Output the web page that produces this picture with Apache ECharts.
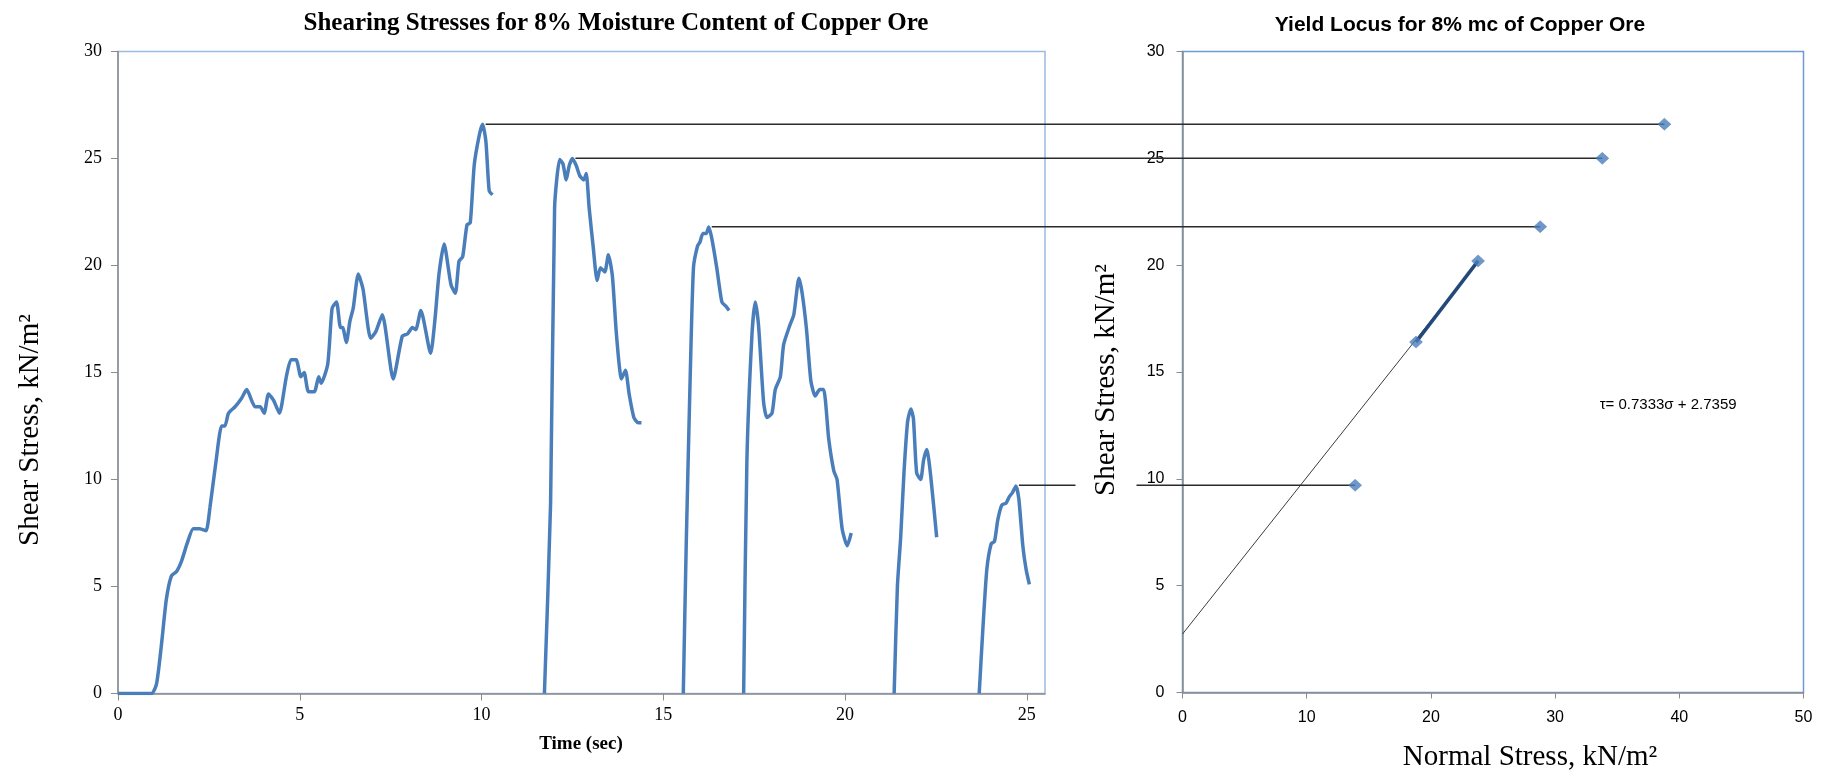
<!DOCTYPE html>
<html>
<head>
<meta charset="utf-8">
<script src="https://cdn.jsdelivr.net/npm/echarts@6/dist/echarts.min.js"></script>
<style>
  html, body { margin: 0; padding: 0; background: #ffffff; }
  #chart { width: 1834px; height: 777px; }
</style>
</head>
<body>
<div id="chart"></div>
<script>
// Shear box record: time (s) against shear stress (kN/m²); null separates the six runs
const timeSec = [
  0, 0.92, 1.06, 1.19, 1.33, 1.47, 1.61, 1.75, 1.90, 2.07, 2.25, 2.42, 2.53, 2.70, 2.85,
  2.94, 3.04, 3.22, 3.40, 3.54, 3.77, 3.91, 4.02, 4.14, 4.28, 4.44, 4.63, 4.76, 4.90, 5.03,
  5.12, 5.24, 5.40, 5.52, 5.59, 5.77, 5.89, 6.01, 6.12, 6.18, 6.28, 6.38, 6.47, 6.61, 6.74,
  6.95, 7.09, 7.27, 7.57, 7.82, 7.96, 8.10, 8.19, 8.33, 8.60, 8.72, 8.83, 8.97, 9.16, 9.28,
  9.38, 9.48, 9.60, 9.69, 9.80, 9.94, 10.03, 10.12, 10.21, 10.30,
  null,
  11.73, 11.90, 12.01, 12.15, 12.24, 12.33, 12.41, 12.50, 12.61, 12.70, 12.81, 12.88, 12.96,
  13.07, 13.18, 13.27, 13.39, 13.49, 13.60, 13.71, 13.85, 13.96, 14.06, 14.19, 14.31, 14.40,
  null,
  15.55, 15.63, 15.74, 15.83, 15.94, 16.01, 16.09, 16.18, 16.25, 16.33, 16.47, 16.61, 16.72, 16.81,
  null,
  17.21, 17.30, 17.44, 17.53, 17.62, 17.76, 17.85, 17.99, 18.08, 18.22, 18.31, 18.48, 18.59,
  18.73, 18.82, 18.94, 19.06, 19.18, 19.30, 19.41, 19.55, 19.69, 19.78, 19.92, 20.06, 20.17,
  null,
  21.35, 21.44, 21.53, 21.62, 21.72, 21.81, 21.88, 21.97, 22.08, 22.16, 22.25, 22.36, 22.52,
  null,
  23.69, 23.79, 23.90, 24.02, 24.11, 24.20, 24.31, 24.43, 24.52, 24.61, 24.70, 24.78, 24.89, 24.98, 25.07
];
const shearStress = [
  0, 0, 0.45, 2.2, 4.4, 5.5, 5.7, 6.2, 7.0, 7.7, 7.7, 7.6, 8.7, 10.9, 12.5,
  12.5, 13.1, 13.4, 13.8, 14.2, 13.4, 13.4, 13.1, 14.0, 13.7, 13.1, 14.8, 15.6, 15.6, 14.8,
  15.0, 14.1, 14.1, 14.8, 14.5, 15.4, 18.0, 18.3, 17.1, 17.1, 16.4, 17.4, 18.0, 19.6, 18.9,
  16.6, 16.9, 17.7, 14.7, 16.7, 16.8, 17.1, 17.0, 17.9, 15.9, 17.5, 19.6, 21.0, 19.1, 18.7,
  20.2, 20.4, 21.9, 22.0, 24.7, 26.1, 26.6, 25.8, 23.5, 23.3,
  null,
  0, 8.9, 22.7, 24.95, 24.75, 24.0, 24.65, 25.0, 24.65, 24.2, 24.0, 24.3, 22.7,
  20.9, 19.3, 19.9, 19.7, 20.5, 19.5, 16.8, 14.7, 15.1, 14.0, 12.9, 12.65, 12.65,
  null,
  0, 6.9, 14.8, 19.9, 20.9, 21.1, 21.5, 21.5, 21.8, 21.3, 19.9, 18.3, 18.1, 17.9,
  null,
  0, 10.9, 16.8, 18.3, 17.2, 13.6, 12.9, 13.1, 14.2, 14.8, 16.3, 17.2, 17.7,
  19.4, 18.7, 17.0, 14.6, 13.9, 14.2, 14.2, 11.9, 10.4, 10.0, 7.7, 6.9, 7.5,
  null,
  0, 5.0, 7.3, 10.3, 12.7, 13.3, 12.85, 10.3, 10.0, 10.9, 11.4, 10.1, 7.3,
  null,
  0, 3.0, 5.8, 7.0, 7.1, 8.1, 8.8, 8.9, 9.2, 9.4, 9.7, 9.1, 6.9, 5.8, 5.1
];

// Yield locus points: normal stress vs peak shear stress (kN/m²)
const normalStress = [13.9, 18.8, 23.8, 28.8, 33.8, 38.8];
const peakShear = [9.7, 16.4, 20.2, 21.8, 25.0, 26.6];

// Linear fit printed on the chart
const fitSlope = 0.7333;
const fitIntercept = 2.7359;
const fitSigma = [0, 23.8];
const fitLabel = 'τ= 0.7333σ + 2.7359';

// Peaks on the time record carried across to the yield locus
const peakTimes = [10.03, 12.50, 16.25, 24.70];
const peakPoint = [5, 4, 3, 0];

// Axis ticks
const timeTicks = [0, 5, 10, 15, 20, 25];
const stressTicks = [0, 5, 10, 15, 20, 25, 30];
const normalTicks = [0, 10, 20, 30, 40, 50];

const recordData = timeSec.map((t, i) =>
  t === null ? ['-', '-'] : [t, shearStress[i]]);
const locusData = normalStress.map((s, i) => [s, peakShear[i]]);
const fitData = fitSigma.map(s => [s, fitSlope * s + fitIntercept]);
const segmentData = [locusData[1], locusData[2]];

const SERIF = '"Liberation Serif", "Times New Roman", serif';
const SANS = '"Liberation Sans", Arial, sans-serif';
const axisGray = '#8c8c8c';

const chart = echarts.init(document.getElementById('chart'), null, { renderer: 'canvas' });

const option = {
  backgroundColor: '#ffffff',
  animation: false,
  title: [
    {
      text: 'Shearing Stresses for 8% Moisture Content of Copper Ore',
      left: 611, top: 6, textAlign: 'center',
      textStyle: { fontFamily: SERIF, fontWeight: 'bold', fontSize: 25, color: '#000' }
    },
    {
      text: 'Yield Locus for 8% mc of Copper Ore',
      left: 1455, top: 10, textAlign: 'center',
      textStyle: { fontFamily: SANS, fontWeight: 'bold', fontSize: 21, color: '#000' }
    }
  ],
  grid: [
    { left: 118, top: 51.5, width: 927, height: 642, show: true,
      borderColor: '#9bbbe0', borderWidth: 1.5, backgroundColor: 'transparent' },
    { left: 1182.5, top: 51.5, width: 621, height: 641, show: true,
      borderColor: '#6f9ad3', borderWidth: 1.5, backgroundColor: 'transparent' }
  ],
  xAxis: [
    {
      type: 'value', gridIndex: 0, min: 0, max: 25.5,
      splitLine: { show: false },
      axisLine: { show: true, onZero: false, lineStyle: { color: axisGray, width: 1.5 } },
      axisTick: { show: true, length: 7, customValues: timeTicks, lineStyle: { color: axisGray } },
      axisLabel: { customValues: timeTicks, margin: 13, fontFamily: SERIF, fontSize: 18, color: '#000' }
    },
    {
      type: 'value', gridIndex: 1, min: 0, max: 50, interval: 10,
      splitLine: { show: false },
      axisLine: { show: true, onZero: false, lineStyle: { color: axisGray, width: 1.5 } },
      axisTick: { show: true, length: 6, customValues: normalTicks, lineStyle: { color: axisGray } },
      axisLabel: { customValues: normalTicks, margin: 17, fontFamily: SANS, fontSize: 16, color: '#000' }
    }
  ],
  yAxis: [
    {
      type: 'value', gridIndex: 0, min: 0, max: 30, interval: 5,
      splitLine: { show: false },
      axisLine: { show: true, onZero: false, lineStyle: { color: axisGray, width: 1.5 } },
      axisTick: { show: true, length: 7, customValues: stressTicks, lineStyle: { color: axisGray } },
      axisLabel: { customValues: stressTicks, margin: 16, fontFamily: SERIF, fontSize: 18, color: '#000' }
    },
    {
      type: 'value', gridIndex: 1, min: 0, max: 30, interval: 5,
      splitLine: { show: false },
      axisLine: { show: true, onZero: false, lineStyle: { color: axisGray, width: 1.5 } },
      axisTick: { show: true, length: 6, customValues: stressTicks, lineStyle: { color: axisGray } },
      axisLabel: { customValues: stressTicks, margin: 18, fontFamily: SANS, fontSize: 16, color: '#000' }
    }
  ],
  series: [
    {
      name: 'Shear stress', type: 'line', xAxisIndex: 0, yAxisIndex: 0,
      data: recordData, connectNulls: false, showSymbol: false, symbol: 'none',
      smooth: 0.2,
      lineStyle: { color: '#4a7ebb', width: 3.5 }, z: 3
    },
    {
      name: 'Linear fit', type: 'line', xAxisIndex: 1, yAxisIndex: 1,
      data: fitData, symbol: 'none',
      lineStyle: { color: '#3c3c3c', width: 1 }, z: 2
    },
    {
      name: 'Locus segment', type: 'line', xAxisIndex: 1, yAxisIndex: 1,
      data: segmentData, symbol: 'none',
      lineStyle: { color: '#23497a', width: 3.5 }, z: 3
    },
    {
      name: 'Yield locus', type: 'scatter', xAxisIndex: 1, yAxisIndex: 1,
      data: locusData, symbol: 'diamond', symbolSize: [13, 12],
      itemStyle: { color: '#4a7ebb', borderColor: '#3d6ea8', borderWidth: 0.5 }, z: 6
    }
  ]
};

chart.setOption(option);

// Connectors, fit equation and axis titles placed with the chart's own coordinate system
function drawOverlay() {
  const els = [];
  peakTimes.forEach((t, i) => {
    const k = peakPoint[i];
    const a = chart.convertToPixel({ gridIndex: 0 }, [t, peakShear[k]]);
    const b = chart.convertToPixel({ gridIndex: 1 }, [normalStress[k], peakShear[k]]);
    els.push({
      type: 'line', z: 4, silent: true,
      shape: { x1: a[0] + 3, y1: b[1], x2: b[0], y2: b[1] },
      style: { stroke: '#2b2b2b', lineWidth: 1.5 }
    });
  });
  const eq = chart.convertToPixel({ gridIndex: 1 }, [39.1, 13.45]);
  els.push({
    type: 'text', z: 8, x: eq[0], y: eq[1],
    style: { text: fitLabel, align: 'center', verticalAlign: 'middle',
             font: '15px ' + SANS, fill: '#000' }
  });
  // axis titles
  els.push({
    type: 'text', z: 8, x: 30, y: 430, rotation: Math.PI / 2,
    style: { text: 'Shear Stress, kN/m²', align: 'center', verticalAlign: 'middle',
             font: '29px ' + SERIF, fill: '#000' }
  });
  els.push({
    type: 'text', z: 9, x: 1106, y: 380, rotation: Math.PI / 2,
    style: { text: 'Shear Stress, kN/m²', align: 'center', verticalAlign: 'middle',
             font: '29px ' + SERIF, fill: '#000', backgroundColor: '#ffffff', padding: [16, 2] }
  });
  els.push({
    type: 'text', z: 8, x: 581, y: 744,
    style: { text: 'Time (sec)', align: 'center', verticalAlign: 'middle',
             font: 'bold 19px ' + SERIF, fill: '#000' }
  });
  els.push({
    type: 'text', z: 8, x: 1530, y: 757,
    style: { text: 'Normal Stress, kN/m²', align: 'center', verticalAlign: 'middle',
             font: '29px ' + SERIF, fill: '#000' }
  });
  chart.setOption({ graphic: { elements: els } });
}
drawOverlay();
</script>
</body>
</html>
